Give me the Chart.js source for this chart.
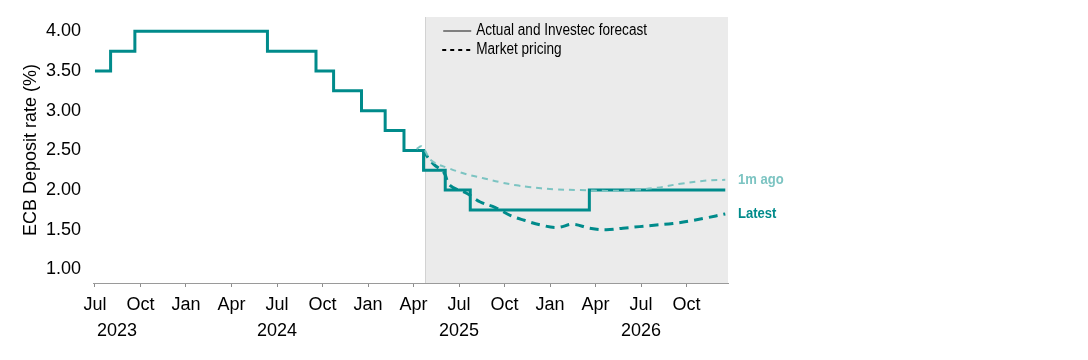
<!DOCTYPE html>
<html>
<head>
<meta charset="utf-8">
<script src="https://cdn.jsdelivr.net/npm/chart.js@4.4.1/dist/chart.umd.min.js"></script>
<style>
  body { margin: 0; background: #fff; }
  #wrap { width: 1088px; height: 360px; }
</style>
</head>
<body>
<div id="wrap"><canvas id="myChart" width="1088" height="360"></canvas></div>
<script>
// x values are months counted from 1 Jul 2023
const tickMonths = [0, 3, 6, 9, 12, 15, 18, 21, 24, 27, 30, 33, 36, 39];
const tickLabels = ['Jul', 'Oct', 'Jan', 'Apr', 'Jul', 'Oct', 'Jan', 'Apr', 'Jul', 'Oct', 'Jan', 'Apr', 'Jul', 'Oct'];
const yearLabels = ['2023', '2024', '2025', '2026'];
const yearMonths = [1.45, 12, 24, 36];
const yTicks = [1.0, 1.5, 2.0, 2.5, 3.0, 3.5, 4.0];
const forecastStart = 21.77;

// actual and Investec forecast (step line)
const rateMonths = [0, 1.03, 2.63, 11.37, 14.57, 15.73, 17.57, 19.13, 20.37, 21.66, 23.09, 24.74, 32.59, 41.55];
const rateValues = [3.50, 3.75, 4.00, 3.75, 3.50, 3.25, 3.00, 2.75, 2.50, 2.25, 2.00, 1.75, 2.00, 2.00];

// market pricing, latest
const latestMonths = [21.6, 22.3, 23.0, 23.4, 24.5, 25.4, 26.4, 27.4, 28.3, 29.4, 30.5, 31.5, 32.6, 33.7, 34.8, 35.9, 37.0, 38.1, 39.2, 40.3, 41.55];
const latestValues = [2.50, 2.33, 2.22, 2.06, 1.96, 1.85, 1.78, 1.68, 1.62, 1.56, 1.53, 1.57, 1.52, 1.50, 1.52, 1.54, 1.56, 1.58, 1.61, 1.65, 1.70];

// market pricing, 1 month ago
const monthAgoMonths = [21.2, 21.55, 22.2, 23.4, 24.5, 25.6, 26.7, 27.8, 28.6, 30.2, 32.0, 33.75, 35.3, 37.05, 38.6, 40.3, 41.55];
const monthAgoValues = [2.52, 2.55, 2.37, 2.27, 2.20, 2.15, 2.10, 2.06, 2.04, 2.01, 2.00, 1.99, 2.00, 2.03, 2.08, 2.12, 2.13];

const dark = '#008b8b';
const light = '#7cc4c2';
const fontFam = "'Liberation Sans', Arial, sans-serif";

function pts(xs, ys) {
    return xs.map((x, i) => ({x: x, y: ys[i]}));
}

// narrow text: the original uses a condensed face
function narrowText(ctx, text, x, y, squeeze) {
    ctx.save();
    ctx.translate(x, y);
    ctx.scale(squeeze, 1);
    ctx.fillText(text, 0, 0);
    ctx.restore();
}

const extras = {
    id: 'extras',
    beforeDraw(chart) {
        const {ctx, chartArea, scales} = chart;
        const x0 = scales.x.getPixelForValue(forecastStart);
        ctx.save();
        ctx.fillStyle = '#ebebeb';
        ctx.fillRect(x0, chartArea.top, chartArea.right - x0, chartArea.bottom - chartArea.top);
        ctx.strokeStyle = '#d2d2d2';
        ctx.lineWidth = 1;
        ctx.beginPath();
        ctx.moveTo(Math.round(x0) + 0.5, chartArea.top);
        ctx.lineTo(Math.round(x0) + 0.5, chartArea.bottom);
        ctx.stroke();
        ctx.restore();
    },
    afterDraw(chart) {
        const {ctx, chartArea, scales} = chart;
        const x0 = scales.x.getPixelForValue(forecastStart);
        ctx.save();
        // legend
        ctx.lineWidth = 2;
        ctx.strokeStyle = '#808080';
        ctx.beginPath();
        ctx.moveTo(x0 + 18, chartArea.top + 14);
        ctx.lineTo(x0 + 46, chartArea.top + 14);
        ctx.stroke();
        ctx.strokeStyle = '#000';
        ctx.setLineDash([4, 4]);
        ctx.beginPath();
        ctx.moveTo(x0 + 17, chartArea.top + 33);
        ctx.lineTo(x0 + 46, chartArea.top + 33);
        ctx.stroke();
        ctx.setLineDash([]);
        ctx.fillStyle = '#000';
        ctx.font = '16px ' + fontFam;
        ctx.textBaseline = 'middle';
        ctx.textAlign = 'left';
        narrowText(ctx, 'Actual and Investec forecast', x0 + 51, chartArea.top + 14, 0.85);
        narrowText(ctx, 'Market pricing', x0 + 51, chartArea.top + 33, 0.85);
        // end labels
        ctx.font = 'bold 15px ' + fontFam;
        [0, 1].forEach((i) => {
            const meta = chart.getDatasetMeta(i);
            const last = meta.data[meta.data.length - 1];
            ctx.fillStyle = chart.data.datasets[i].borderColor;
            narrowText(ctx, chart.data.datasets[i].label, chartArea.right + 10, last.y, 0.87);
        });
        // year labels
        ctx.fillStyle = '#000';
        ctx.font = '18px ' + fontFam;
        ctx.textAlign = 'center';
        yearLabels.forEach((t, i) => {
            ctx.fillText(t, scales.x.getPixelForValue(yearMonths[i]), 331);
        });
        ctx.restore();
    }
};

Chart.defaults.font.family = fontFam;
Chart.defaults.font.size = 18;
Chart.defaults.color = '#000';

const ctx = document.getElementById('myChart');
new Chart(ctx, {
    type: 'line',
    data: {
        datasets: [
            {
                label: '1m ago',
                data: pts(monthAgoMonths, monthAgoValues),
                borderColor: light,
                borderWidth: 2,
                borderDash: [6, 5],
                tension: 0.4,
                pointRadius: 0
            },
            {
                label: 'Latest',
                data: pts(latestMonths, latestValues),
                borderColor: dark,
                borderWidth: 3,
                borderDash: [9, 6],
                tension: 0.4,
                pointRadius: 0
            },
            {
                label: 'Actual and Investec forecast',
                data: pts(rateMonths, rateValues),
                borderColor: dark,
                borderWidth: 3,
                stepped: true,
                pointRadius: 0
            }
        ]
    },
    options: {
        responsive: false,
        animation: false,
        layout: { padding: { top: 17, right: 360, left: 0, bottom: 0 } },
        plugins: { legend: { display: false }, tooltip: { enabled: false } },
        scales: {
            x: {
                type: 'linear',
                min: -0.13,
                max: 41.73,
                afterBuildTicks: (scale) => { scale.ticks = tickMonths.map((v) => ({value: v})); },
                afterFit: (scale) => {
                    scale.height = 77;
                    scale.paddingLeft = 0;
                    scale.paddingRight = 0;
                },
                ticks: {
                    autoSkip: false,
                    maxRotation: 0,
                    padding: 7,
                    callback: (value, index) => tickLabels[index]
                },
                grid: { drawOnChartArea: false, drawTicks: true, tickLength: 4, color: '#8c8c8c' },
                border: { display: true, color: '#9a9a9a', width: 1 }
            },
            y: {
                min: 0.83,
                max: 4.18,
                afterBuildTicks: (scale) => { scale.ticks = yTicks.map((v) => ({value: v})); },
                afterFit: (scale) => {
                    scale.width = 93;
                    scale.paddingTop = 0;
                    scale.paddingBottom = 0;
                },
                ticks: {
                    padding: 12,
                    callback: (value) => value.toFixed(2)
                },
                grid: { display: false, drawTicks: false },
                border: { display: false },
                title: {
                    display: true,
                    text: 'ECB Deposit rate (%)',
                    font: { size: 18 },
                    padding: { top: 20, bottom: 0 }
                }
            }
        }
    },
    plugins: [extras]
});
</script>
</body>
</html>
